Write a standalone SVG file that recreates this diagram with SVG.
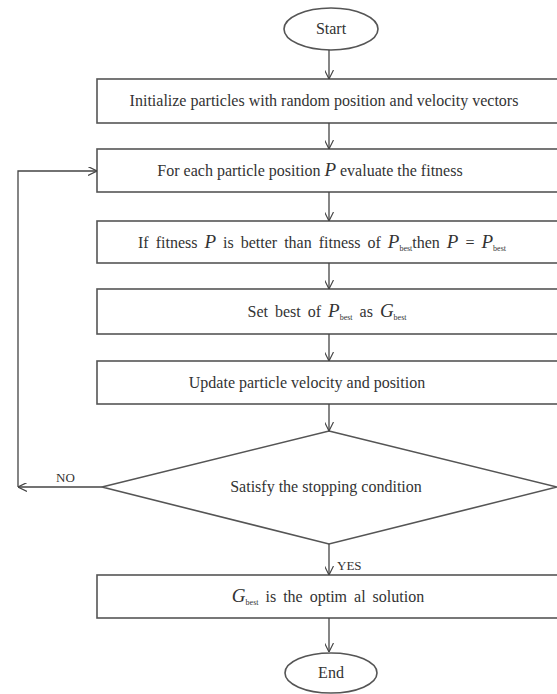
<svg xmlns="http://www.w3.org/2000/svg" width="557" height="694" viewBox="0 0 557 694">
<defs>
<marker id="arr" viewBox="0 0 10 10" refX="10" refY="5" markerWidth="9" markerHeight="9" markerUnits="userSpaceOnUse" orient="auto">
<path d="M0,0 L10,5 L0,10" fill="none" stroke="#444" stroke-width="1.3"/>
</marker>
<style>
.shape{fill:#fff;stroke:#555;stroke-width:1.6}
text{font-family:'Liberation Serif','Times New Roman','DejaVu Serif',serif;fill:#333}
.t{font-size:16px;text-anchor:middle}
.m{font-style:italic;font-size:19px}
.s{font-size:8px}
.lbl{font-size:13px}
.ws{word-spacing:3px}
.c{fill:none;stroke:#444;stroke-width:1.3}
</style>
</defs>
<rect width="557" height="694" fill="#fff"/>
<g id="start"><ellipse class="shape" cx="331" cy="29" rx="47" ry="21"/><text class="t" x="331" y="34">Start</text></g>
<g id="init"><rect class="shape" x="97" y="79" width="464" height="44"/><text class="t" x="324" y="106">Initialize particles with random position and velocity vectors</text></g>
<g id="eval"><rect class="shape" x="97" y="149" width="464" height="43"/><text class="t" x="310" y="176">For each particle position <tspan class="m">P</tspan> evaluate the fitness</text></g>
<g id="compare"><rect class="shape" x="97" y="221" width="464" height="42"/><text class="t ws" x="322" y="248">If fitness <tspan class="m">P</tspan> is better than fitness of <tspan class="m">P</tspan><tspan class="s" dy="3">best</tspan><tspan dy="-3">then </tspan><tspan class="m">P</tspan> = <tspan class="m">P</tspan><tspan class="s" dy="3">best</tspan></text></g>
<g id="setbest"><rect class="shape" x="97" y="289" width="464" height="45"/><text class="t ws" x="327" y="317">Set best of <tspan class="m">P</tspan><tspan class="s" dy="3">best</tspan><tspan dy="-3"> as </tspan><tspan class="m">G</tspan><tspan class="s" dy="3">best</tspan></text></g>
<g id="update"><rect class="shape" x="97" y="361" width="464" height="43"/><text class="t" x="307" y="388">Update particle velocity and position</text></g>
<g id="decision"><polygon class="shape" points="329,431 557,487 329,544 102,487"/><text class="t" x="326" y="492">Satisfy the stopping condition</text></g>
<g id="result"><rect class="shape" x="97" y="575" width="464" height="43"/><text class="t ws" x="328" y="602"><tspan class="m">G</tspan><tspan class="s" dy="3">best</tspan><tspan dy="-3"> is the optim al solution</tspan></text></g>
<g id="end"><ellipse class="shape" cx="331" cy="673" rx="46" ry="20"/><text class="t" x="331" y="678">End</text></g>
<g id="connectors">
<line class="c" x1="329" y1="50" x2="329" y2="79" marker-end="url(#arr)"/>
<line class="c" x1="329" y1="123" x2="329" y2="149" marker-end="url(#arr)"/>
<line class="c" x1="329" y1="192" x2="329" y2="221" marker-end="url(#arr)"/>
<line class="c" x1="329" y1="263" x2="329" y2="289" marker-end="url(#arr)"/>
<line class="c" x1="329" y1="334" x2="329" y2="361" marker-end="url(#arr)"/>
<line class="c" x1="329" y1="404" x2="329" y2="431" marker-end="url(#arr)"/>
<line class="c" x1="329" y1="544" x2="329" y2="575" marker-end="url(#arr)"/>
<line class="c" x1="329" y1="618" x2="329" y2="652" marker-end="url(#arr)"/>
<line class="c" x1="102" y1="487" x2="18" y2="487" marker-end="url(#arr)"/>
<polyline class="c" points="18,487 18,171 97,171" marker-end="url(#arr)"/>
<text class="lbl" x="56" y="482">NO</text>
<text class="lbl" x="337" y="570">YES</text>
</g>
</svg>
